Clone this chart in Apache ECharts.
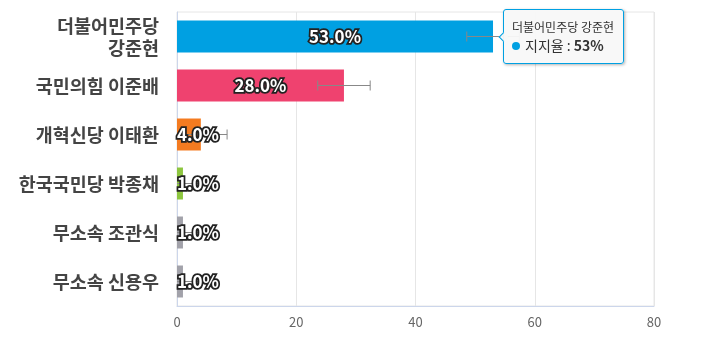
<!DOCTYPE html>
<html>
<head>
<meta charset="utf-8">
<script src="https://cdn.jsdelivr.net/npm/echarts@6/dist/echarts.min.js"></script>
<style>
html,body{margin:0;padding:0;background:#fff;}
#main{width:720px;height:356px;}
</style>
</head>
<body>
<div id="main"></div>
<script>
const categories = ['더불어민주당\n강준현', '국민의힘 이준배', '개혁신당 이태환', '한국국민당 박종채', '무소속 조관식', '무소속 신용우'];
const values = [53, 28, 4, 1, 1, 1];
const errors = [4.4, 4.4, 4.4, 4.4, 4.4, 4.4];
const colors = ['#00A0E2', '#EF426F', '#F47B20', '#8DC63F', '#A2A2AA', '#A2A2AA'];
const xTicks = [0, 20, 40, 60, 80];
const seriesName = '지지율';

const FONT = '"Noto Sans CJK KR", "Noto Sans", sans-serif';
const chart = echarts.init(document.getElementById('main'), null, {renderer: 'canvas'});

const errData = values.map((v, i) => [Math.max(0, v - errors[i]), v + errors[i], i, v - errors[i] >= 0 ? 1 : 0]);

const option = {
  animation: false,
  textStyle: {fontFamily: FONT},
  grid: {left: 177, right: 66, top: 12, bottom: 50, show: true, borderColor: '#e6e6e6', borderWidth: 1, backgroundColor: 'transparent'},
  tooltip: {
    trigger: 'item',
    triggerOn: 'none',
    alwaysShowContent: true,
    transitionDuration: 0,
    position: 'right',
    backgroundColor: 'rgba(248,248,248,0.95)',
    borderColor: colors[0],
    borderWidth: 1,
    padding: [8, 9, 8, 8],
    textStyle: {fontFamily: FONT, color: '#333'},
    extraCssText: 'box-shadow: 1px 1px 3px rgba(0,0,0,0.3); border-radius:3px;',
    formatter: function (p) {
      const name = categories[p.dataIndex].replace('\n', ' ');
      return '<div style="font-size:12px;line-height:17px;color:#333">' + name + '</div>' +
        '<div style="font-size:14px;line-height:20px;color:#333">' +
        '<span style="display:inline-block;width:8px;height:8px;border-radius:4px;background:' + colors[p.dataIndex] + ';margin-right:5px;vertical-align:1px"></span>' +
        seriesName + ' : <b>' + values[p.dataIndex] + '%</b></div>';
    }
  },
  xAxis: {
    type: 'value', min: xTicks[0], max: xTicks[xTicks.length - 1], interval: 20,
    axisLine: {show: true, lineStyle: {color: '#ccd6eb'}},
    axisTick: {show: false},
    splitLine: {show: true, lineStyle: {color: '#e6e6e6'}},
    axisLabel: {color: '#666', fontSize: 13, margin: 10, fontFamily: FONT}
  },
  yAxis: {
    type: 'category', data: categories, inverse: true,
    axisLine: {show: true, lineStyle: {color: '#ccd6eb'}},
    axisTick: {show: false},
    axisLabel: {color: '#444', fontSize: 18.5, fontWeight: 'bold', margin: 18, lineHeight: 22, fontFamily: FONT}
  },
  series: [
    {
      type: 'bar', name: seriesName, z: 2,
      barWidth: 32,
      data: values.map((v, i) => ({value: v, itemStyle: {color: colors[i]}})),
      label: {show: false}
    },
    {
      type: 'custom', z: 3, silent: true, tooltip: {show: false},
      data: errData,
      encode: {x: [0, 1], y: 2},
      renderItem: function (params, api) {
        const lo = api.coord([api.value(0), api.value(2)]);
        const hi = api.coord([api.value(1), api.value(2)]);
        const h = 5;
        const st = {stroke: '#888', lineWidth: 1};
        const children = [
          {type: 'line', shape: {x1: lo[0], y1: lo[1], x2: hi[0], y2: hi[1]}, style: st},
          {type: 'line', shape: {x1: hi[0], y1: hi[1] - h, x2: hi[0], y2: hi[1] + h}, style: st}
        ];
        if (api.value(3)) {
          children.push({type: 'line', shape: {x1: lo[0], y1: lo[1] - h, x2: lo[0], y2: lo[1] + h}, style: st});
        }
        return {type: 'group', children: children};
      }
    },
    {
      type: 'bar', z: 4, silent: true, tooltip: {show: false},
      barWidth: 32, barGap: '-100%',
      itemStyle: {color: 'transparent'},
      data: values.map(v => ({value: v, label: {position: v > 10 ? 'inside' : 'insideLeft', distance: 0}})),
      label: {
        show: true,
        formatter: p => p.value.toFixed(1) + '%',
        color: '#fff', fontSize: 17, fontWeight: 'bold', fontFamily: FONT,
        textBorderColor: '#222', textBorderWidth: 3.5
      }
    }
  ]
};
chart.setOption(option);
chart.dispatchAction({type: 'showTip', seriesIndex: 0, dataIndex: 0});
</script>
</body>
</html>
